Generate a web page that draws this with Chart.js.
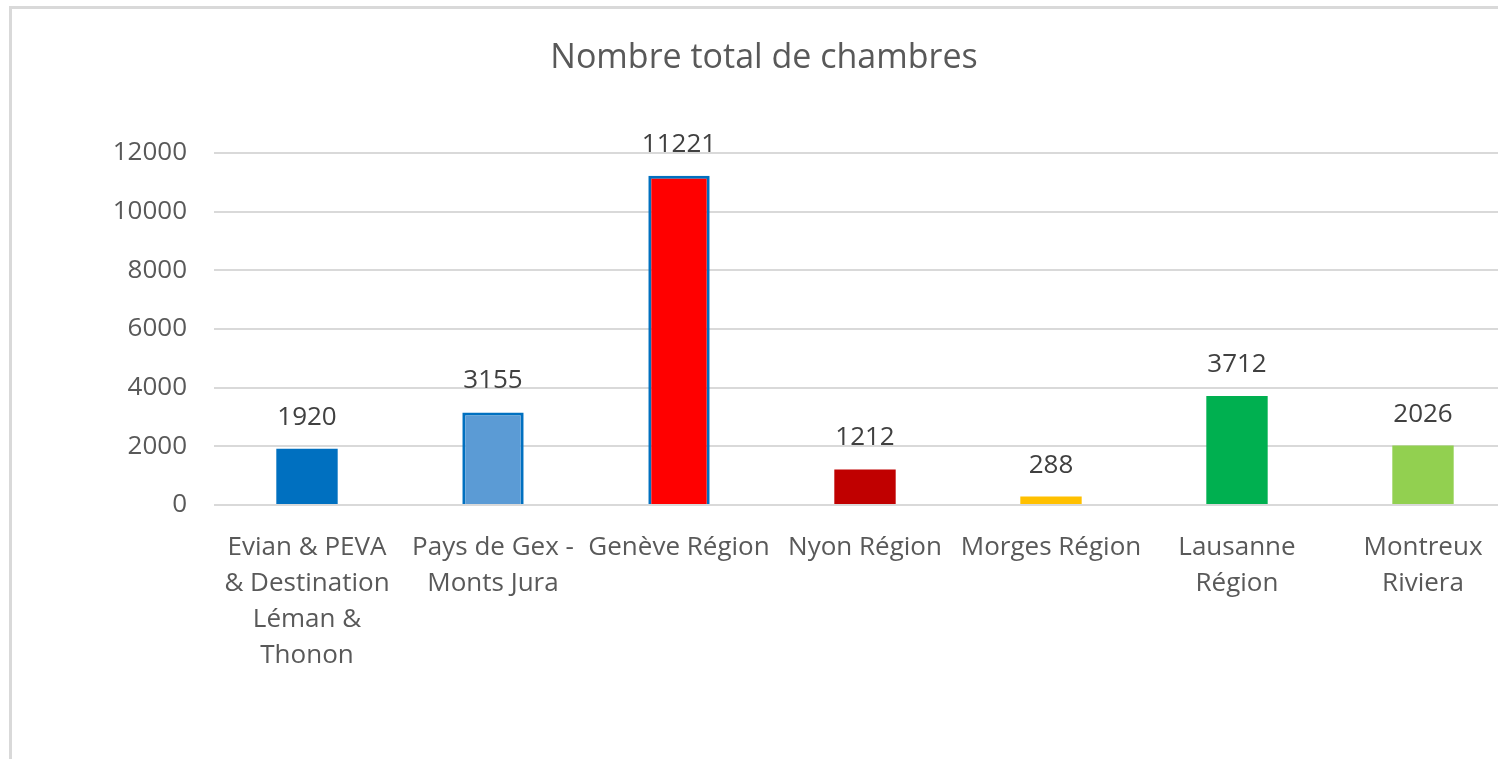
<!DOCTYPE html>
<html lang="fr">
<head>
    <meta charset="UTF-8">
    <title>Nombre total de chambres</title>
    <style>
        body {
            margin: 0;
            padding: 0;
            background-color: #ffffff;
            overflow: hidden;
            width: 1498px;
            height: 759px;
            position: relative;
        }

        .frame {
            position: absolute;
            left: 9px;
            top: 6px;
            border-top: 3px solid #d9d9d9;
            border-left: 3px solid #d9d9d9;
            width: 1520px;
            height: 760px;
        }

        canvas {
            display: block;
        }
    </style>
    <script src="https://cdn.jsdelivr.net/npm/chart.js"></script>
</head>
<body>
    <div class="frame">
        <canvas id="roomsChart" width="1520" height="760"></canvas>
    </div>

    <script>
        // données du graphique
        const regions = [
            ['Evian & PEVA', '& Destination', 'Léman &', 'Thonon'],
            ['Pays de Gex -', 'Monts Jura'],
            'Genève Région',
            'Nyon Région',
            'Morges Région',
            ['Lausanne', 'Région'],
            ['Montreux', 'Riviera']
        ];
        const chambres = [1920, 3155, 11221, 1212, 288, 3712, 2026];
        const barColors = ['#0070C0', '#5B9BD5', '#FF0000', '#C00000', '#FFC000', '#00B050', '#92D050'];
        const barBorders = ['#0070C0', '#0070C0', '#0070C0', '#C00000', '#FFC000', '#00B050', '#92D050'];
        const borderWidths = [0, 3, 3, 0, 0, 0, 0];
        const yTicks = [0, 2000, 4000, 6000, 8000, 10000, 12000];

        const fontFamily = "'Open Sans', 'Noto Sans', sans-serif";

        // étiquettes de valeurs au-dessus des barres
        const valueLabels = {
            id: 'valueLabels',
            afterDatasetsDraw(chart) {
                const ctx = chart.ctx;
                const meta = chart.getDatasetMeta(0);
                ctx.save();
                ctx.font = `26px ${fontFamily}`;
                ctx.fillStyle = '#404040';
                ctx.textAlign = 'center';
                ctx.textBaseline = 'alphabetic';
                meta.data.forEach((bar, i) => {
                    ctx.fillText(String(chart.data.datasets[0].data[i]), bar.x, bar.y - 24);
                });
                ctx.restore();
            }
        };

        const ctx = document.getElementById('roomsChart').getContext('2d');
        new Chart(ctx, {
            type: 'bar',
            data: {
                labels: regions,
                datasets: [{
                    label: 'Nombre total de chambres',
                    data: chambres,
                    backgroundColor: barColors,
                    borderColor: barBorders,
                    borderWidth: borderWidths,
                    borderSkipped: 'bottom',
                    categoryPercentage: 1,
                    barPercentage: 0.33
                }]
            },
            options: {
                responsive: false,
                animation: false,
                layout: {
                    padding: { left: 0, right: 16, top: 0, bottom: 0 }
                },
                scales: {
                    x: {
                        grid: { display: false },
                        border: { display: false },
                        ticks: {
                            color: '#595959',
                            font: { family: fontFamily, size: 26, lineHeight: 1.38 },
                            padding: 17,
                            maxRotation: 0,
                            autoSkip: false
                        },
                        afterFit(scale) {
                            scale.height = 264;
                        }
                    },
                    y: {
                        min: 0,
                        max: 12000,
                        afterBuildTicks(scale) {
                            scale.ticks = yTicks.map(v => ({ value: v }));
                        },
                        grid: {
                            color: '#d9d9d9',
                            lineWidth: 2,
                            drawTicks: false
                        },
                        border: { display: false },
                        ticks: {
                            color: '#595959',
                            font: { family: fontFamily, size: 26 },
                            padding: 27,
                            callback: value => String(value)
                        },
                        afterFit(scale) {
                            scale.width = 202;
                        }
                    }
                },
                plugins: {
                    legend: { display: false },
                    tooltip: { enabled: false },
                    title: {
                        display: true,
                        text: 'Nombre total de chambres',
                        color: '#595959',
                        font: { family: fontFamily, size: 34, weight: 'normal', lineHeight: 1.2 },
                        padding: { top: 29, bottom: 74 }
                    }
                }
            },
            plugins: [valueLabels]
        });
    </script>
</body>
</html>
